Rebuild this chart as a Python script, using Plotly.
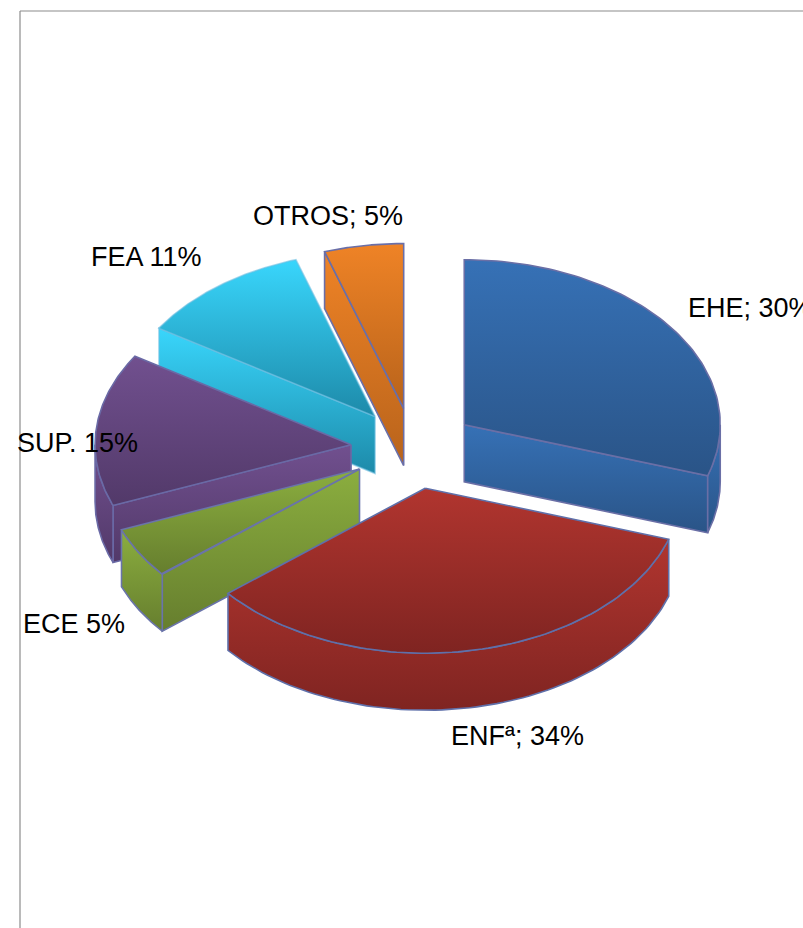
import numpy as np
import plotly.graph_objects as go

# --- data, clockwise from 12 o'clock ---
labels = ["EHE", "ENF", "ECE", "SUP", "FEA", "OTROS"]
values = [30, 34, 5, 15, 11, 5]
label_texts = ["EHE; 30%", "ENFª; 34%", "ECE 5%", "SUP. 15%", "FEA 11%", "OTROS; 5%"]

# --- style ---
light = ["#3671b6", "#b1352f", "#8bae3f", "#71508f", "#39d6fc", "#ef8326"]
dark = ["#2a5487", "#7f2421", "#667e2e", "#523969", "#1d8aa9", "#b8631b"]
edge = ["#6a6fa6", "#5f70aa", "#6a74aa", "#6a6aa6", "rgba(110,190,225,0.6)", "#6a6fa8"]
label_x = [686, 449, 21, 15, 89, 251]
label_y = [308, 736, 624, 443, 257, 216]
draw_order = ["OTROS", "FEA", "SUP", "ECE", "ENF", "EHE"]

CX, CY = 413.5, 448.5   # pie centre on the page scale
RX, RY = 256.0, 165.0   # tilted ellipse radii
DEPTH = 57.0
EXPLODE = 0.245


def ellipse(theta_deg, ox, oy):
    t = np.radians(theta_deg)
    return ox + RX * np.sin(t), oy - RY * np.cos(t)


def face(xs, ys, c0, c1, line):
    xs, ys = list(map(float, xs)), list(map(float, ys))
    return go.Scatter(
        x=xs + xs[:1], y=ys + ys[:1], mode="lines", fill="toself",
        line=dict(color=line, width=1.6), hoverinfo="skip", showlegend=False,
        fillgradient=dict(type="vertical", start=min(ys), stop=max(ys),
                          colorscale=[[0, c0], [1, c1]]),
    )


total = sum(values)
bounds = np.concatenate([[0], np.cumsum(values)]) * 360.0 / total
fig = go.Figure()

for name in draw_order:
    i = labels.index(name)
    a0, a1 = bounds[i], bounds[i + 1]
    mid = np.radians((a0 + a1) / 2)
    ox = CX + EXPLODE * RX * np.sin(mid)
    oy = CY - EXPLODE * RY * np.cos(mid)
    c0, c1, ln = light[i], dark[i], edge[i]

    # cut walls facing the viewer
    for a, visible in ((a0, np.sin(np.radians(a0)) < -1e-6), (a1, np.sin(np.radians(a1)) > 1e-6)):
        if visible:
            ex, ey = ellipse(a, ox, oy)
            fig.add_trace(face([ox, ex, ex, ox], [oy, ey, ey + DEPTH, oy + DEPTH], c0, c1, ln))

    # front of the outer rim
    r0, r1 = max(a0, 90.0), min(a1, 270.0)
    if r1 > r0:
        th = np.linspace(r0, r1, 80)
        rx, ry = ellipse(th, ox, oy)
        fig.add_trace(face(np.r_[rx, rx[::-1]], np.r_[ry, ry[::-1] + DEPTH], c0, c1, ln))

    # top face
    th = np.linspace(a0, a1, 90)
    tx, ty = ellipse(th, ox, oy)
    fig.add_trace(face(np.r_[ox, tx], np.r_[oy, ty], c0, c1, ln))

for t, x, y in zip(label_texts, label_x, label_y):
    fig.add_annotation(x=x, y=y, xref="x", yref="y", text=t, showarrow=False,
                       xanchor="left", yanchor="middle", align="left",
                       font=dict(family="Liberation Sans", size=27, color="#000000"))

# chart frame, running off the right and bottom of the page
fig.add_shape(type="line", x0=20, y0=11, x1=803, y1=11, xref="x", yref="y",
              line=dict(color="#8c8c8c", width=1.2))
fig.add_shape(type="line", x0=20, y0=11, x1=20, y1=928, xref="x", yref="y",
              line=dict(color="#8c8c8c", width=1.2))

fig.update_layout(
    width=803, height=928, margin=dict(l=0, r=0, t=0, b=0),
    paper_bgcolor="white", plot_bgcolor="white", showlegend=False,
    xaxis=dict(range=[0, 803], visible=False, fixedrange=True),
    yaxis=dict(range=[928, 0], visible=False, fixedrange=True),
)
fig.write_html("out.html", config={"displayModeBar": False},
               post_script="document.body.style.margin='0';document.body.style.overflow='hidden';")
